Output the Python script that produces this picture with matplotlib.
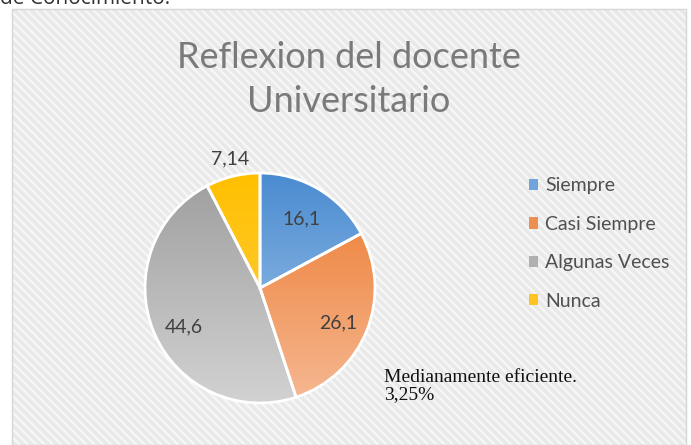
import numpy as np
import matplotlib.pyplot as plt
from matplotlib.patches import Rectangle, Patch
from matplotlib.colors import LinearSegmentedColormap

plt.rcParams['font.family'] = ['Lato', 'DejaVu Sans']
plt.rcParams['hatch.linewidth'] = 1.6

categories = ['Siempre', 'Casi Siempre', 'Algunas Veces', 'Nunca']
values = [16.1, 26.1, 44.6, 7.14]
value_labels = ['16,1', '26,1', '44,6', '7,14']
# gradient (top colour, bottom colour) per slice
top_colors = ['#4a8bd0', '#ec7a2e', '#9e9e9e', '#ffbf00']
bottom_colors = ['#a9cbec', '#f6b892', '#d2d2d2', '#ffd24d']
legend_colors = ['#6fa5dc', '#ee8f52', '#b0b0b0', '#ffc423']

W, H = 691, 445
fig = plt.figure(figsize=(W / 100, H / 100), dpi=100)
fig.patch.set_facecolor('white')

# cut-off caption line above the chart
fig.text(0.0, 1.0 + 1 / H, 'de Conocimiento.', fontsize=15, color='#333333',
         ha='left', va='center', family=['Open Sans', 'DejaVu Sans'])

# chart area with light diagonal texture
bg = Rectangle((12 / W, 0), (686 - 12) / W, (H - 9) / H, transform=fig.transFigure,
               facecolor='#e9e9e9', edgecolor='#f7f7f7', hatch='\\\\\\\\', linewidth=0, zorder=0)
fig.add_artist(bg)
frame = Rectangle((12 / W, 0), (686 - 12) / W, (H - 9) / H, transform=fig.transFigure,
                  facecolor='none', edgecolor='#d6d6d6', linewidth=1.0, zorder=1)
fig.add_artist(frame)

fig.text(349 / W, 1 - 57 / H, 'Reflexion del docente', fontsize=26, color='#7a7a7a',
         ha='center', va='center')
fig.text(349 / W, 1 - 101 / H, 'Universitario', fontsize=26, color='#7a7a7a',
         ha='center', va='center')

# pie axes: center ~ (260, 288) px, radius ~115 px
cx, cy, r = 260, 288, 115
ax = fig.add_axes([(cx - r) / W, (H - cy - r) / H, 2 * r / W, 2 * r / H])
ax.set_facecolor('none')
wedges, _ = ax.pie(values, startangle=90, counterclock=False, colors=legend_colors,
                   wedgeprops=dict(edgecolor='white', linewidth=2))
ax.set_xlim(-1, 1)
ax.set_ylim(-1, 1)
ax.axis('off')

grad = np.linspace(0, 1, 256).reshape(-1, 1)
for w, c0, c1 in zip(wedges, top_colors, bottom_colors):
    cmap = LinearSegmentedColormap.from_list('g', [c0, c1])
    im = ax.imshow(grad, cmap=cmap, extent=[-1, 1, -1, 1], origin='upper',
                   aspect='auto', zorder=w.get_zorder() + 0.1)
    im.set_clip_path(w)
    w.set_zorder(w.get_zorder() + 0.2)
    w.set_facecolor('none')

# data labels
label_pos = [(0.36, 0.60), (0.68, -0.30), (-0.66, -0.34), (-0.26, 1.12)]
for (x, y), txt in zip(label_pos, value_labels):
    ax.text(x, y, txt, fontsize=14, color='#404040', ha='center', va='center', zorder=5)

handles = [Patch(facecolor=c, edgecolor='none') for c in legend_colors]
fig.legend(handles, categories, loc='upper left', bbox_to_anchor=(511 / W, 1 - 160 / H),
           frameon=False, fontsize=14, labelcolor='#505050', handlelength=0.5,
           handleheight=0.5, handletextpad=0.35, labelspacing=1.1)

fig.text(384 / W, 1 - 386 / H, 'Medianamente eficiente.\n3,25%', fontsize=14,
         color='#111111', family='Liberation Serif', ha='left', va='center',
         linespacing=1.05)

fig.savefig('out.png', dpi=100)
